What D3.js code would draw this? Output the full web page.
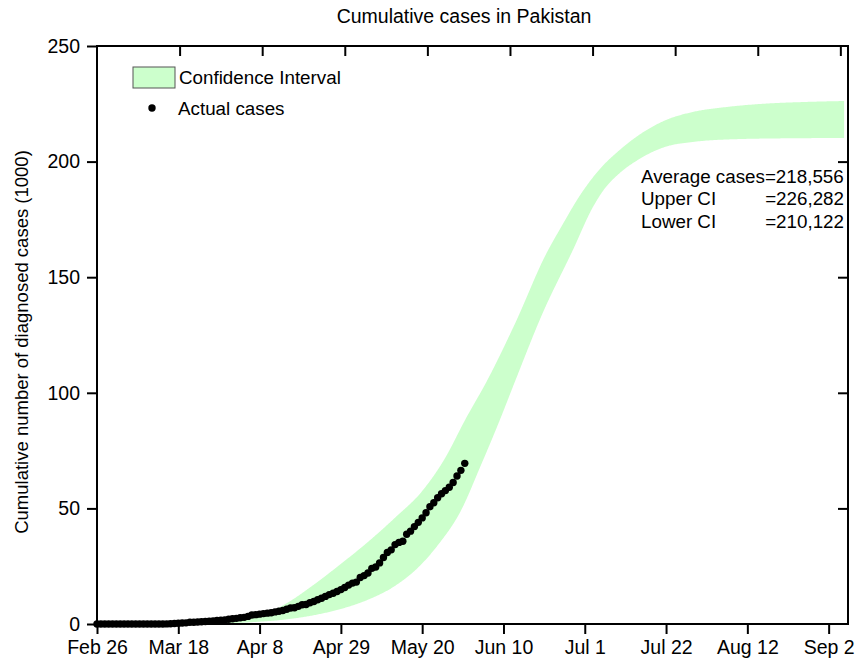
<!DOCTYPE html>
<html>
<head>
<meta charset="utf-8">
<script src="https://cdn.jsdelivr.net/npm/d3@7"></script>
<style>
  html, body { margin: 0; padding: 0; background: #fff; }
  svg { display: block; font-family: "Liberation Sans", Arial, sans-serif; }
</style>
</head>
<body>
<svg id="chart" width="856" height="662"></svg>
<script>
// ---------------- DATA ----------------
const title = "Cumulative cases in Pakistan";
const yLabel = "Cumulative number of diagnosed cases (1000)";
const startDate = "2020-02-26";
const endDate = "2020-09-07";

// Actual cumulative cases (thousands), one per day from Feb 26 to May 31
const actualCases = [
  0.002, 0.002, 0.002, 0.004, 0.004, 0.004, 0.005, 0.005, 0.005, 0.006,
  0.006, 0.006, 0.006, 0.016, 0.019, 0.020, 0.028, 0.031, 0.053, 0.136,
  0.236, 0.299, 0.454, 0.501, 0.730, 0.776, 0.875, 0.972, 1.063, 1.201,
  1.373, 1.495, 1.597, 1.717, 2.039, 2.291, 2.450, 2.708, 2.880, 3.277,
  3.864, 4.035, 4.263, 4.489, 4.695, 4.892, 5.230, 5.496, 5.837, 6.383,
  6.919, 7.025, 7.638, 8.348, 8.418, 9.216, 9.749, 10.513, 11.155, 11.940,
  12.723, 13.328, 14.079, 14.885, 15.759, 16.817, 17.699, 18.114, 20.084, 20.941,
  22.049, 24.073, 24.644, 26.435, 28.736, 30.941, 32.081, 34.336, 35.298, 35.788,
  38.799, 40.151, 42.125, 43.966, 45.898, 48.091, 50.694, 52.437, 54.601, 56.349,
  57.705, 59.151, 61.227, 64.028, 66.457, 69.496
];

// Confidence interval band (thousands)
const ciUpperDates = ["2020-02-26","2020-03-18","2020-04-01","2020-04-08","2020-04-15","2020-04-22",
  "2020-04-29","2020-05-06","2020-05-13","2020-05-20","2020-05-26","2020-05-31",
  "2020-06-06","2020-06-13","2020-06-21","2020-06-25","2020-06-30","2020-07-05","2020-07-10",
  "2020-07-15","2020-07-22","2020-07-29","2020-08-06","2020-08-16","2020-08-27","2020-09-06"];
const ciUpper = [0, 0.3, 1.5, 3.5, 9, 17,
  26, 35.5, 46, 57.5, 72, 88,
  106, 130, 160, 172, 186, 197, 205,
  211.5, 218, 221.5, 223.5, 225, 225.8, 226.2];

const ciLowerDates = ["2020-02-26","2020-03-25","2020-04-01","2020-04-08","2020-04-15","2020-04-22",
  "2020-04-29","2020-05-06","2020-05-13","2020-05-19","2020-05-24","2020-05-30","2020-06-04",
  "2020-06-09","2020-06-13","2020-06-20","2020-06-28","2020-07-03","2020-07-06","2020-07-10",
  "2020-07-15","2020-07-22","2020-07-29","2020-08-09","2020-08-24","2020-09-06"];
const ciLower = [0, 0.1, 0.4, 1, 2, 3.8,
  6.5, 10.5, 16.5, 24.5, 34, 49, 68,
  88, 105, 134, 162, 180, 188, 195,
  201, 206.5, 208.5, 209.7, 210.1, 210.2];

const xTickLabels = ["Feb 26","Mar 18","Apr 8","Apr 29","May 20","Jun 10","Jul 1","Jul 22","Aug 12","Sep 2"];
const xTickDates = ["2020-02-26","2020-03-18","2020-04-08","2020-04-29","2020-05-20","2020-06-10",
  "2020-07-01","2020-07-22","2020-08-12","2020-09-02"];
const yTicks = [0, 50, 100, 150, 200, 250];

const legendLabels = ["Confidence Interval", "Actual cases"];
const annotLabels = ["Average cases", "Upper CI", "Lower CI"];
const annotValues = ["=218,556", "=226,282", "=210,122"];

// ---------------- CHART ----------------
const parse = d3.utcParse("%Y-%m-%d");
const svg = d3.select("#chart");
const L = 97, R = 848, T = 46, B = 624;

const x = d3.scaleUtc().domain([parse(startDate), parse(endDate)]).range([L, R]);
const xTop = d3.scaleUtc().domain([parse(startDate), parse(endDate)]).range([L, L + (R - L) * 1.016]);
const y = d3.scaleLinear().domain([0, 250]).range([B, T]);

const green = "#ccffcc";

// CI band: area between smoothed upper and lower curves
const lineGen = d3.line().curve(d3.curveMonotoneX);
const upperPts = ciUpperDates.map((d, i) => [x(parse(d)), y(ciUpper[i])]);
const lowerPts = ciLowerDates.map((d, i) => [x(parse(d)), y(ciLower[i])]);
function sample(pts) {
  const p = document.createElementNS("http://www.w3.org/2000/svg", "path");
  p.setAttribute("d", lineGen(pts));
  svg.node().appendChild(p);
  const len = p.getTotalLength();
  const out = [];
  for (let s = 0; s <= len; s += 1) { const q = p.getPointAtLength(s); out.push([q.x, q.y]); }
  const q = p.getPointAtLength(len); out.push([q.x, q.y]);
  p.remove();
  return out;
}
const up = sample(upperPts);
const lo = sample(lowerPts).reverse();
svg.append("path")
  .attr("d", "M" + up.concat(lo).map(p => p[0].toFixed(2) + "," + p[1].toFixed(2)).join("L") + "Z")
  .attr("fill", green).attr("stroke", "none");

// Actual cases dots
const d0 = parse(startDate);
const caseDates = d3.utcDay.range(d0, d3.utcDay.offset(d0, actualCases.length));
svg.append("g").selectAll("circle")
  .data(actualCases)
  .join("circle")
  .attr("cx", (d, i) => x(caseDates[i]))
  .attr("cy", d => y(d))
  .attr("r", 3.7)
  .attr("fill", "#000");

// Axes
const fontSize = 19.5;
const xAxis = d3.axisBottom(x)
  .tickValues(xTickDates.map(parse))
  .tickFormat((d, i) => xTickLabels[i])
  .tickSizeOuter(0).tickSize(10).tickPadding(6);
const gx = svg.append("g").attr("transform", `translate(0,${B})`).call(xAxis);
gx.select(".domain").remove();
gx.selectAll("line").attr("stroke", "#000").attr("stroke-width", 2);
gx.selectAll("text").attr("font-size", fontSize).attr("fill", "#000")
  .attr("font-family", "Liberation Sans, Arial, sans-serif");

const xAxisTop = d3.axisBottom(xTop)
  .tickValues(xTickDates.map(parse).slice(1))
  .tickFormat("").tickSizeOuter(0).tickSize(10);
const gxt = svg.append("g").attr("transform", `translate(0,${T})`).call(xAxisTop);
gxt.select(".domain").remove();
gxt.selectAll("line").attr("stroke", "#000").attr("stroke-width", 2);

const yAxis = d3.axisLeft(y).tickValues(yTicks).tickFormat(d3.format("d"))
  .tickSizeOuter(0).tickSize(10).tickPadding(7);
const gy = svg.append("g").attr("transform", `translate(${L},0)`).call(yAxis);
gy.select(".domain").remove();
gy.selectAll("line").attr("stroke", "#000").attr("stroke-width", 2);
gy.selectAll("text").attr("font-size", fontSize).attr("fill", "#000")
  .attr("font-family", "Liberation Sans, Arial, sans-serif");

const yAxisRight = d3.axisLeft(y).tickValues(yTicks.slice(1, -1)).tickFormat("")
  .tickSizeOuter(0).tickSize(10);
const gyr = svg.append("g").attr("transform", `translate(${R},0)`).call(yAxisRight);
gyr.select(".domain").remove();
gyr.selectAll("line").attr("stroke", "#000").attr("stroke-width", 2);

// Frame
svg.append("rect").attr("x", L).attr("y", T).attr("width", R - L).attr("height", B - T)
  .attr("fill", "none").attr("stroke", "#000").attr("stroke-width", 2);

// Title
svg.append("text").attr("x", 464).attr("y", 23).attr("text-anchor", "middle")
  .attr("font-size", 19.5).attr("fill", "#000").text(title);

// Y label
svg.append("text").attr("transform", `translate(28,342) rotate(-90)`)
  .attr("text-anchor", "middle").attr("font-size", 18.5).attr("fill", "#000").text(yLabel);

// Legend
const lg = svg.append("g");
lg.append("rect").attr("x", 133).attr("y", 67).attr("width", 42).attr("height", 21)
  .attr("fill", green).attr("stroke", "#555").attr("stroke-width", 1);
lg.append("text").attr("x", 179).attr("y", 84).attr("font-size", 18.8).attr("fill", "#000").text(legendLabels[0]);
lg.append("circle").attr("cx", 152).attr("cy", 108).attr("r", 3.7).attr("fill", "#000");
lg.append("text").attr("x", 178).attr("y", 115).attr("font-size", 18.8).attr("fill", "#000").text(legendLabels[1]);

// Annotation
const ag = svg.append("g").attr("font-size", 18.8).attr("fill", "#000");
annotLabels.forEach((lab, i) => {
  const yy = 183 + i * 22.3;
  if (i === 0) {
    ag.append("text").attr("x", 641).attr("y", yy).text(lab + annotValues[i]);
  } else {
    ag.append("text").attr("x", 641).attr("y", yy).text(lab);
    ag.append("text").attr("x", 844).attr("y", yy).attr("text-anchor", "end").text(annotValues[i]);
  }
});
</script>
</body>
</html>
